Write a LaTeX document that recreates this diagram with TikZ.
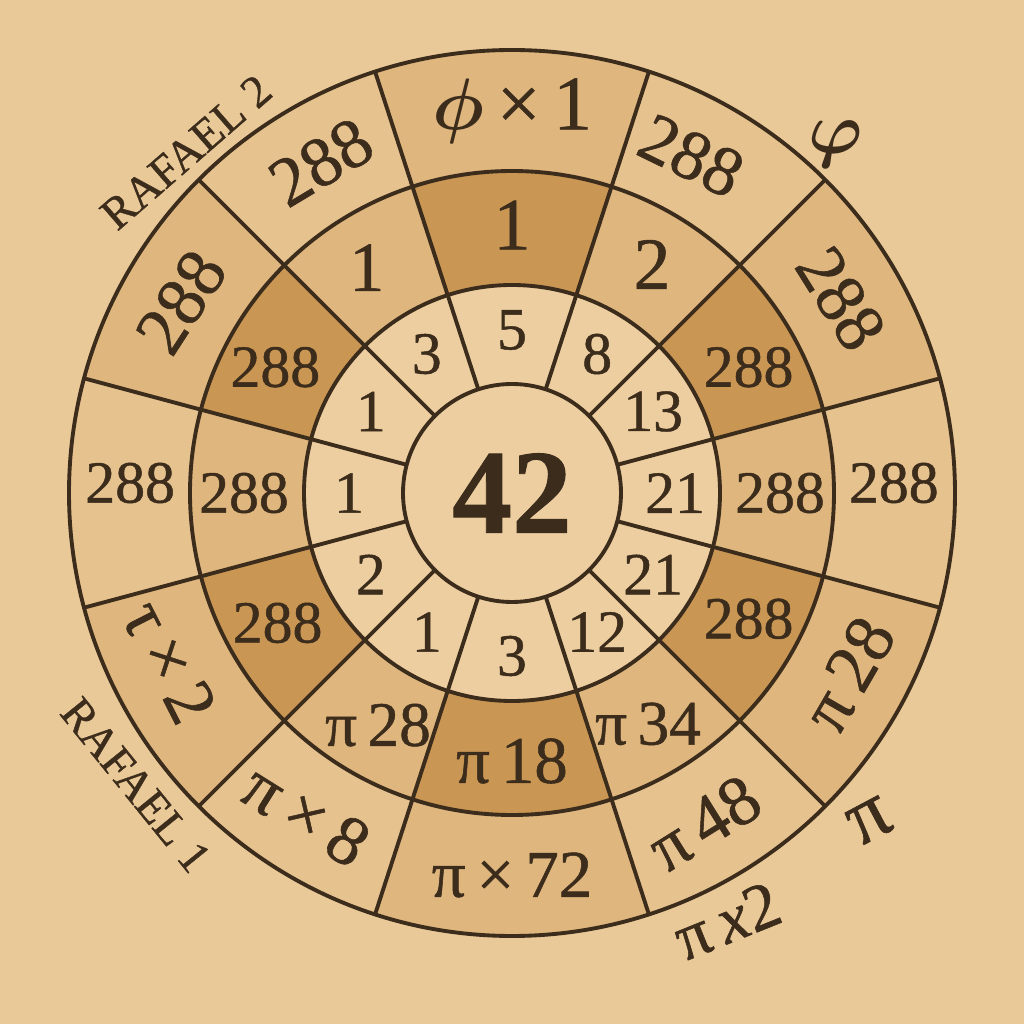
\documentclass[tikz,border=0pt]{standalone}
\usepackage{amsmath}
\usepackage{fontspec}
\setmainfont{Liberation Serif}[RawFeature={embolden=0.8}]
\definecolor{bgtan}{RGB}{234,201,153}
\definecolor{celllight}{RGB}{237,206,160}
\definecolor{cellpale}{RGB}{230,194,143}
\definecolor{cellmid}{RGB}{222,182,126}
\definecolor{celldark}{RGB}{201,150,84}
\definecolor{ink}{RGB}{60,44,28}
\newcommand{\sz}[1]{\fontsize{#1}{#1}\selectfont}

\begin{document}
\begin{tikzpicture}[lbl/.style={text=ink, inner sep=0pt}, rim/.style={ink, line width=1.1pt}]
\fill[bgtan] (0,0) rectangle (10.24,10.24);
\coordinate (c) at (5.12,5.31);
\fill[celllight] (c) circle (1.09);
\foreach \a/\b/\two/\three in {72/108/celldark/cellmid, 45/72/cellmid/cellpale, 15/45/celldark/cellmid, -15/15/cellmid/cellpale, -45/-15/celldark/cellmid, -72/-45/cellmid/cellpale, -108/-72/celldark/cellmid, -135/-108/cellmid/cellpale, -165/-135/celldark/cellmid, 165/195/cellmid/cellpale, 135/165/celldark/cellmid, 108/135/cellmid/cellpale}{
  \fill[celllight, shift={(c)}] (\a:1.09) arc[start angle=\a, end angle=\b, radius=1.09] -- (\b:2.08) arc[start angle=\b, end angle=\a, radius=2.08] -- cycle;
  \fill[\two, shift={(c)}] (\a:2.08) arc[start angle=\a, end angle=\b, radius=2.08] -- (\b:3.22) arc[start angle=\b, end angle=\a, radius=3.22] -- cycle;
  \fill[\three, shift={(c)}] (\a:3.22) arc[start angle=\a, end angle=\b, radius=3.22] -- (\b:4.43) arc[start angle=\b, end angle=\a, radius=4.43] -- cycle;
}
\draw[rim] (c) circle (1.09) (c) circle (2.08) (c) circle (3.22) (c) circle (4.43);
\foreach \s in {108,72,45,15,-15,-45,-72,-108,-135,-165,165,135}
  \draw[rim, shift={(c)}] (\s:1.09) -- (\s:4.43);
\node[lbl, font=\sz{34}\bfseries] (mid) at (c) {42};
\foreach \ang/\txt [count=\i] in {90/5, 58.5/8, 30/13, 0/21, -30/21, -58.5/12, -90/3, -121.5/1, -150/2, 180/1, 150/1, 121.5/3}
  \node[lbl, font=\sz{17}] (one\i) at ([shift={(\ang:1.63)}]c) {\txt};
\foreach \ang/\txt/\fs [count=\i] in {90/1/21, 58.5/2/21, 28/288/17, 0/288/17, -28/288/17, -59.5/π\,34/18, -90/π\,18/19, -120/π\,28/18, -151/288/17, 180/288/17, 152/288/17, 122.8/1/20}
  \node[lbl, font=\sz{\fs}] (two\i) at ([shift={(\ang:2.68)}]c) {\txt};
\foreach \ang/\txt/\fs/\rot [count=\i] in {90/$\boldsymbol\phi$\,×\,1/22/0, 62/288/20/-26, 30.6/288/20/-58, 1.5/288/17/0, -28.3/π\,28/20/60, -59.8/π\,48/20/32, -90/π\,×\,72/19/0, -122.6/π\,×\,8/20/-32, -153.8/τ\,×\,2/20/-63, 178.5/288/17/0, 150/288/20/57, 120/288/20/31}
  \node[lbl, font=\sz{\fs}, rotate=\rot] (three\i) at ([shift={(\ang:3.82)}]c) {\txt};
\node[lbl, font=\sz{13}, rotate=41] (rafaeltwo) at (1.86,8.72) {RAFAEL 2};
\node[lbl, font=\sz{13}, rotate=-51] (rafaelone) at (1.36,2.39) {RAFAEL 1};
\node[lbl, font=\sz{21}] (phi) at (8.36,8.80) {$\boldsymbol\varphi$};
\node[lbl, font=\sz{23}, rotate=28] (pi) at (8.70,2.03) {π};
\node[lbl, font=\sz{19}, rotate=22] (pitwo) at (7.27,1.03) {π\,\textit{x}2};
\end{tikzpicture}
\end{document}
